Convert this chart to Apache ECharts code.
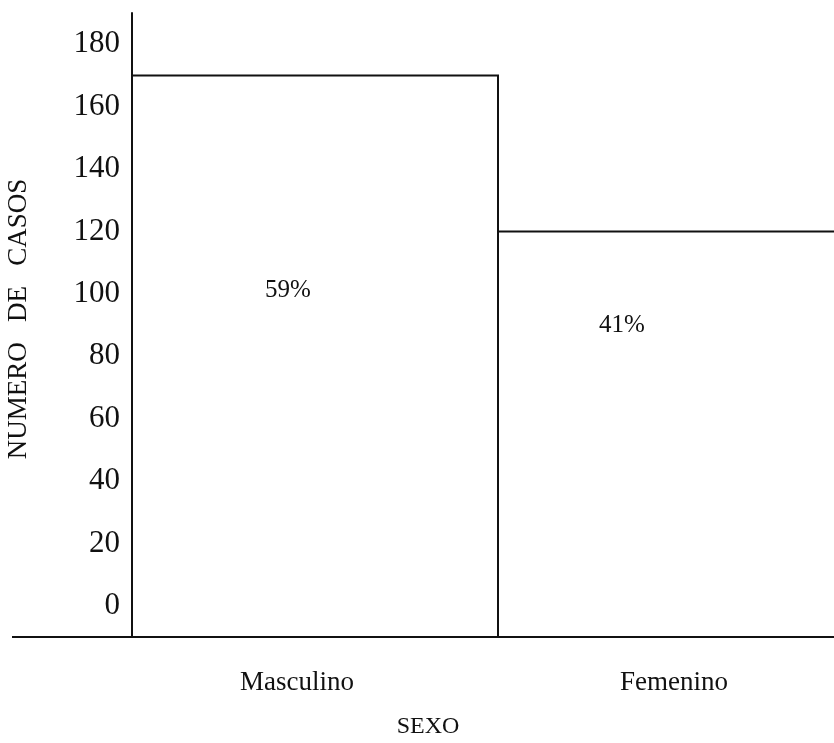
<!DOCTYPE html>
<html>
<head>
<meta charset="utf-8">
<script src="https://cdn.jsdelivr.net/npm/echarts@6/dist/echarts.min.js"></script>
<style>
  html, body { margin: 0; padding: 0; background: #fff; }
  #chart { width: 834px; height: 743px; }
</style>
</head>
<body>
<div id="chart"></div>
<script>
// ---- data ----
const categories = ['Masculino', 'Femenino'];
const casos = [170, 120];
const yTickValues = [0, 20, 40, 60, 80, 100, 120, 140, 160, 180];
const xTitle = 'SEXO';
const yTitle = 'NUMERO   DE   CASOS';

// ---- styling ----
const SERIF = '"Liberation Serif", "Times New Roman", serif';
const INK = '#111';
const Y_MIN = -10, Y_MAX = 190;
const PCT_SHIFT = [[-27, 215], [-59, 94]]; // label offset from bar top-centre (px)

const total = casos.reduce((a, b) => a + b, 0);
const pct = casos.map(v => Math.round(v / total * 100) + '%');

const chart = echarts.init(document.getElementById('chart'), null, { renderer: 'canvas' });

chart.setOption({
  animation: false,
  backgroundColor: '#fff',
  grid: { left: 132, right: -30, top: 13, bottom: 106, containLabel: false, outerBoundsMode: 'none' },
  xAxis: {
    type: 'category',
    data: categories,
    boundaryGap: true,
    name: xTitle,
    nameLocation: 'middle',
    nameGap: 78,
    nameTextStyle: { fontFamily: SERIF, fontSize: 24, color: INK, padding: [0, 140, 0, 0] },
    axisLine: { onZero: false, lineStyle: { color: INK, width: 2 } },
    axisTick: { show: false },
    axisLabel: {
      margin: 32,
      fontFamily: SERIF,
      fontSize: 27,
      color: INK,
      formatter: v => v === 'Masculino' ? '{m|' + v + '}' : '{f|' + v + '}',
      rich: {
        m: { fontFamily: SERIF, fontSize: 27, color: INK, padding: [0, 36, 0, 0] },
        f: { fontFamily: SERIF, fontSize: 27, color: INK, padding: [0, 14, 0, 0] }
      }
    },
    splitLine: { show: false }
  },
  yAxis: {
    type: 'value',
    min: Y_MIN,
    max: Y_MAX,
    interval: 10,
    name: yTitle,
    nameLocation: 'middle',
    nameGap: 100,
    nameRotate: 90,
    nameTextStyle: { fontFamily: SERIF, fontSize: 27, color: INK, padding: [0, 0, 0, 12] },
    axisLine: { show: true, onZero: false, lineStyle: { color: INK, width: 2 } },
    axisTick: { show: false },
    splitLine: { show: false },
    axisLabel: {
      margin: 12,
      fontFamily: SERIF,
      fontSize: 31,
      color: INK,
      showMaxLabel: false,
      formatter: v => yTickValues.indexOf(v) >= 0 ? String(v) : ''
    }
  },
  graphic: [{
    type: 'line',
    shape: { x1: 12, y1: 637, x2: 133, y2: 637 },
    style: { stroke: INK, lineWidth: 2 }
  }],
  series: [{
    type: 'custom',
    coordinateSystem: 'cartesian2d',
    data: casos.map((v, i) => [i, v]),
    renderItem: function (params, api) {
      const i = api.value(0);
      const v = api.value(1);
      const top = api.coord([i, v]);
      const base = api.coord([i, Y_MIN]);
      const w = api.size([1, 0])[0];
      const x0 = top[0] - w / 2;
      const sh = PCT_SHIFT[params.dataIndex];
      return {
        type: 'group',
        children: [{
          type: 'rect',
          shape: { x: x0, y: top[1], width: w, height: base[1] - top[1] },
          style: { fill: 'none', stroke: INK, lineWidth: 2 }
        }, {
          type: 'text',
          x: top[0] + sh[0],
          y: top[1] + sh[1],
          style: {
            text: pct[params.dataIndex],
            fontFamily: SERIF,
            fontSize: 25,
            fill: INK,
            align: 'center',
            verticalAlign: 'middle'
          }
        }]
      };
    }
  }]
});
</script>
</body>
</html>
